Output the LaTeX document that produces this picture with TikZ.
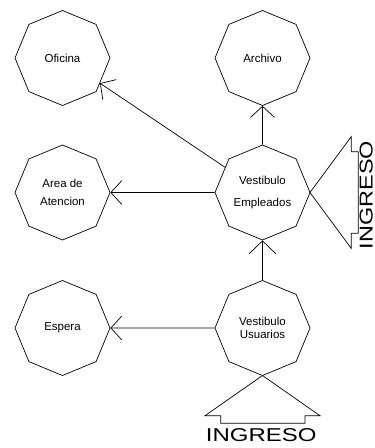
\documentclass[tikz,border=0pt]{standalone}
\usepackage{fontspec}
\setmainfont{Liberation Sans}
\usetikzlibrary{shapes.geometric,arrows.meta,calc}
\begin{document}
\begin{tikzpicture}[x=1pt,y=1pt,
  octa/.style={draw,regular polygon,regular polygon sides=8,shape border rotate=22.5,
    minimum size=95pt,inner sep=0pt,line width=0.7pt,font=\fontsize{11.5}{13.5}\selectfont,align=center},
  arr/.style={line width=0.7pt,-{Straight Barb[length=11pt,width=24pt,line width=0.7pt]}},
  bigarr/.style={line width=0.7pt,-{Straight Barb[length=13pt,width=27pt,line width=0.7pt]}},
  brk/.style={draw,line width=0.7pt,line join=miter},
  ingreso/.style={font=\fontsize{18.6}{20}\selectfont,inner sep=0pt}]
\useasboundingbox (0,0) rectangle (375,-448);
\node[octa] (of) at (62.5,-58) {Oficina};
\node[octa] (ar) at (262.5,-58) {Archivo};
\node[octa] (at) at (62.5,-192.5) {Area de\\[4pt]Atencion};
\node[octa] (ve) at (262.5,-192.5) {Vestibulo\\[8pt]Empleados};
\node[octa] (es) at (62.5,-328) {Espera};
\node[octa] (vu) at (262.5,-328) {Vestibulo\\[0pt]Usuarios};
\draw[arr] (ve) -- (of);
\draw[arr] (ve) -- (ar);
\draw[arr] (ve) -- (at);
\draw[bigarr] (vu) -- (ve);
\draw[arr] (vu) -- (es);
% bottom entrance bracket
\coordinate (vub) at ($(vu.center)+(0,-47.5)$);
\draw[brk] (vub) -- (205,-415.7) -- (220.7,-415.7) -- (220.7,-423.3) -- (305,-423.3)
  -- (305,-415.7) -- (320,-415.7) -- cycle;
\node[ingreso] (ing1) at (261.3,-435) {\scalebox{1.29}[1]{INGRESO}};
% right entrance bracket
\coordinate (ver) at ($(ve.center)+(47.5,0)$);
\draw[brk] (ver) -- (351.2,-136.7) -- (351.2,-151.7) -- (358.3,-151.7) -- (358.3,-233.3)
  -- (351.2,-233.3) -- (351.2,-248.3) -- cycle;
\node[ingreso,rotate=90] (ing2) at (366.3,-195) {\scalebox{1.26}[1]{INGRESO}};
\end{tikzpicture}
\end{document}
